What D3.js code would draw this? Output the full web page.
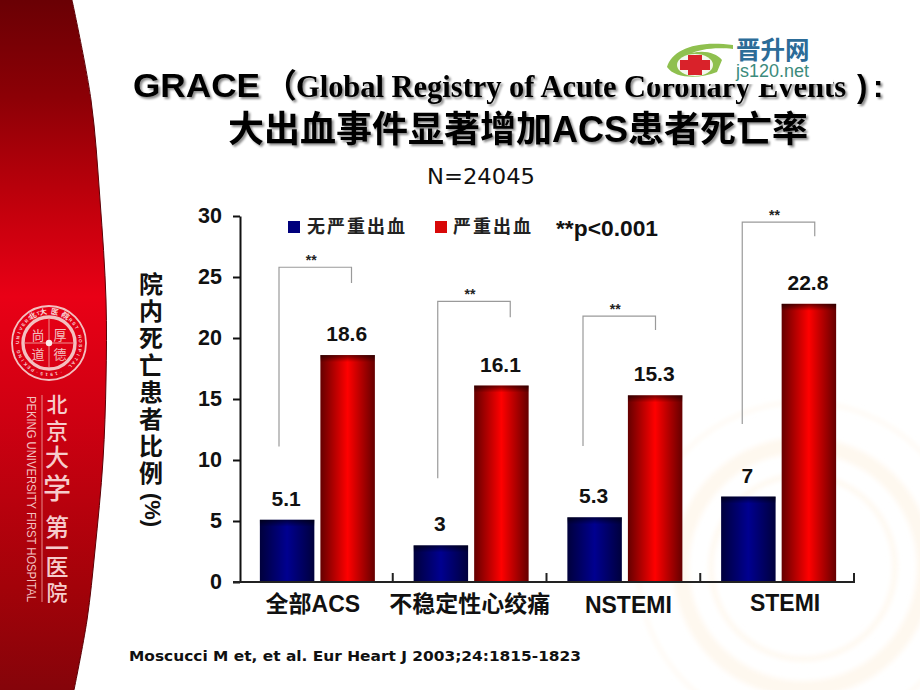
<!DOCTYPE html>
<html><head><meta charset="utf-8">
<script src="https://cdn.jsdelivr.net/npm/d3@7"></script>
<style>html,body{margin:0;padding:0;background:#fff}svg{display:block}</style>
</head><body><svg id="c" width="920" height="690"></svg>
<script>
// ---- data ----
const categories = ["全部ACS", "不稳定性心绞痛", "NSTEMI", "STEMI"];
const seriesNames = ["无严重出血", "严重出血"];
const noBleed = [5.1, 3, 5.3, 7];
const majorBleed = [18.6, 16.1, 15.3, 22.8];
const yTicks = [0, 5, 10, 15, 20, 25, 30];
const bracketTop = [25.8, 23.0, 21.8, 29.5];
const bracketLeftEnd = [11.1, 8.5, 11.15, 12.95];
const bracketRightEnd = [24.5, 21.7, 20.65, 28.35];
const yLabelChars = ["院", "内", "死", "亡", "患", "者", "比", "例"];

// ---- setup ----
const svg = d3.select("#c");
const SANS = "'Liberation Sans',Arial,sans-serif";
const CJK = "'Liberation Sans','Noto Sans CJK SC',sans-serif";
const defs = svg.append("defs");
function grad(id, stops, vertical) {
  const g = defs.append("linearGradient").attr("id", id)
    .attr("x1", 0).attr("y1", 0).attr("x2", vertical ? 0 : 1).attr("y2", vertical ? 1 : 0);
  stops.forEach(s => {
    const st = g.append("stop").attr("offset", s[0]).attr("stop-color", s[1]);
    if (s[2] !== undefined) st.attr("stop-opacity", s[2]);
  });
}
grad("gBlue", [[0, "#00003c"], [0.5, "#000090"], [1, "#00003c"]]);
grad("gRed", [[0, "#650000"], [0.5, "#ff0000"], [1, "#650000"]]);
grad("gTop", [[0, "#000", 0.55], [1, "#000", 0]], true);
grad("gPanel", [[0, "#6a0004"], [0.14, "#8c0006"], [0.3, "#c2000c"], [0.43, "#e90016"], [0.6, "#cf0012"], [0.85, "#a30209"], [1, "#85040a"]], true);
const blur = defs.append("filter").attr("id", "soft").attr("x", "-20%").attr("y", "-20%").attr("width", "140%").attr("height", "140%");
blur.append("feGaussianBlur").attr("stdDeviation", 2.5);

// ---- background ----
const wm = svg.append("g").attr("fill", "none").attr("stroke", "#fef8ef").attr("filter", "url(#soft)");
[[803, 567, 122, 16], [803, 567, 92, 5], [803, 567, 165, 3]].forEach(r =>
  wm.append("circle").attr("cx", r[0]).attr("cy", r[1]).attr("r", r[2]).attr("stroke-width", r[3]));

const edge = [[72, 0], [91, 100], [100, 200], [106, 300], [106, 380], [103, 460], [95, 550], [87, 620], [74, 690]];
const edgePath = d3.line().curve(d3.curveCatmullRom)(edge);
svg.append("path").attr("d", edgePath + "L0,690L0,0Z").attr("fill", "url(#gPanel)");
svg.append("path").attr("d", edgePath).attr("fill", "none").attr("stroke", "#5c0006").attr("stroke-width", 1);

// ---- emblem ----
const PINK = "#f3c0c0";
const em = svg.append("g").attr("transform", "translate(49,343)");
[[37, 1.8], [26, 3.4]].forEach(r =>
  em.append("circle").attr("r", r[0]).attr("fill", "none").attr("stroke", PINK).attr("stroke-width", r[1]));
em.append("path").attr("d", "M-24,0H24M0,-24V24").attr("stroke", "#ee8f8f").attr("stroke-width", 1);
em.append("circle").attr("r", 3.2).attr("fill", "#fde9e9");
[["尚", -11, -9], ["厚", 11, -9], ["道", -11, 10], ["德", 11, 10]].forEach(d =>
  em.append("text").attr("x", d[1]).attr("y", d[2]).attr("text-anchor", "middle").attr("dominant-baseline", "central")
    .attr("font-family", "'Noto Sans CJK SC'").attr("font-size", 13).attr("fill", PINK).text(d[0]));
function ringText(str, centreDeg, stepDeg, size) {
  Array.from(str).forEach((ch, i) => {
    const a = centreDeg + (i - (str.length - 1) / 2) * stepDeg;
    em.append("text").attr("transform", `rotate(${a}) translate(0,-31.5)`).attr("text-anchor", "middle")
      .attr("dominant-baseline", "central").attr("font-family", "'Liberation Sans','Noto Sans CJK SC'")
      .attr("font-weight", "bold").attr("font-size", size).attr("fill", "#f8d5d5").text(ch);
  });
}
ringText("北大医院", 0, 21, 7.5);
ringText("PEKING UNIVERSITY", -80, 8.6, 4.6);
ringText("FIRST HOSPITAL", 82, 8.6, 4.6);
ringText("·1915·", 180, 9, 4.6);

svg.append("line").attr("x1", 42).attr("x2", 42).attr("y1", 395).attr("y2", 602).attr("stroke", "#e88a8a").attr("stroke-width", 1);
svg.append("text").attr("transform", "translate(27,396) rotate(90)").attr("font-family", SANS).attr("font-size", 13.5)
  .attr("fill", PINK).attr("textLength", 206).attr("lengthAdjust", "spacingAndGlyphs").text("PEKING UNIVERSITY FIRST HOSPITAL");
[["北", 403, 21], ["京", 429, 22], ["大", 455, 24], ["学", 487, 28], ["第", 525, 24], ["一", 546, 24], ["医", 565, 23], ["院", 591, 21]].forEach(d =>
  svg.append("text").attr("x", 57).attr("y", d[1]).attr("text-anchor", "middle").attr("dominant-baseline", "central")
    .attr("font-family", "'Noto Sans CJK SC'").attr("font-weight", 500).attr("font-size", d[2]).attr("fill", "#f6cccc").text(d[0]));

// ---- title ----
const title = svg.append("g").style("filter", "drop-shadow(2px 2px 1px #8a8a8a)").attr("fill", "#000");
title.append("text").attr("x", 133).attr("y", 97).attr("font-family", SANS).attr("font-weight", "bold").attr("font-size", 34)
  .attr("textLength", 127).attr("lengthAdjust", "spacingAndGlyphs").text("GRACE");
title.append("text").attr("x", 264).attr("y", 97).attr("font-family", "'Noto Sans CJK SC'").attr("font-weight", "bold").attr("font-size", 33).text("（");
title.append("text").attr("x", 296).attr("y", 97).attr("font-family", "'Liberation Serif',serif").attr("font-weight", "bold").attr("font-size", 31)
  .attr("textLength", 550).attr("lengthAdjust", "spacingAndGlyphs").text("Global Registry of Acute Coronary Events");
title.append("text").attr("x", 857).attr("y", 97).attr("font-family", SANS).attr("font-weight", "bold").attr("font-size", 31).text(")");
title.append("text").attr("x", 873).attr("y", 97).attr("font-family", SANS).attr("font-weight", "bold").attr("font-size", 31).text(":");
title.append("text").attr("x", 518).attr("y", 142).attr("text-anchor", "middle").attr("font-family", CJK).attr("font-weight", "bold").attr("font-size", 36)
  .text("大出血事件显著增加ACS患者死亡率");

// ---- site logo, over the title ----
svg.append("rect").attr("x", 653).attr("y", 30).attr("width", 180).attr("height", 54).attr("fill", "#fff");
const logo = svg.append("g");
logo.append("path").attr("fill", "#8fc04f")
  .attr("d", "M667,67C672,50 695,40 733,45L733,49C712,47 700,50 692,53C705,50 716,53 722,60L717,72C700,79 675,79 667,67Z");
logo.append("ellipse").attr("cx", 695).attr("cy", 65).attr("rx", 18).attr("ry", 11).attr("fill", "#f4f7ee");
logo.append("path").attr("fill", "#d9222a").attr("d", "M688,55H702V60H710V70H702V75H688V70H680V60H688Z");
logo.append("text").attr("x", 736).attr("y", 59).attr("font-family", "'Noto Sans CJK SC'").attr("font-weight", "bold").attr("font-size", 24.5)
  .attr("fill", "#2c6c98").text("晋升网");
logo.append("text").attr("x", 736).attr("y", 77).attr("font-family", SANS).attr("font-size", 18)
  .attr("fill", "#3c8b7c").attr("textLength", 73).attr("lengthAdjust", "spacingAndGlyphs").text("js120.net");

svg.append("text").attr("x", 427).attr("y", 184).attr("font-family", "'DejaVu Sans'").attr("font-size", 22).attr("fill", "#111")
  .attr("textLength", 108).attr("lengthAdjust", "spacingAndGlyphs").text("N=24045");

// ---- chart ----
const y = d3.scaleLinear().domain([0, 30]).range([582, 216]);
const x0 = d3.scaleBand().domain(categories).range([239, 854]).paddingInner(0).paddingOuter(0);
const x1 = d3.scaleBand().domain([0, 1]).range([1.5, x0.bandwidth() + 1.5]).paddingInner(0.1).paddingOuter(0.32);
const series = [noBleed, majorBleed];
const fills = ["url(#gBlue)", "url(#gRed)"];

const g = svg.append("g");
series.forEach((vals, si) => {
  g.append("g").selectAll("rect").data(vals).join("rect")
    .attr("x", (d, i) => x0(categories[i]) + x1(si))
    .attr("width", x1.bandwidth())
    .attr("y", d => y(d))
    .attr("height", d => y(0) - y(d))
    .attr("fill", fills[si]);
  g.append("g").selectAll("rect").data(vals).join("rect")
    .attr("x", (d, i) => x0(categories[i]) + x1(si))
    .attr("width", x1.bandwidth())
    .attr("y", d => y(d))
    .attr("height", 7)
    .attr("fill", "url(#gTop)");
  g.append("g").selectAll("text").data(vals).join("text")
    .attr("x", (d, i) => x0(categories[i]) + x1(si) + x1.bandwidth() / 2 - 1)
    .attr("y", d => y(d) - 14)
    .attr("text-anchor", "middle").attr("font-family", SANS).attr("font-weight", "bold").attr("font-size", 21).attr("fill", "#111")
    .text(d => d);
});

// y axis
const yAxis = g.append("g").attr("transform", "translate(240,0)")
  .call(d3.axisLeft(y).tickValues(yTicks).tickSize(7).tickPadding(11).tickSizeOuter(0));
yAxis.select(".domain").attr("stroke", "#111").attr("stroke-width", 2);
yAxis.selectAll("line").attr("stroke", "#111").attr("stroke-width", 2);
yAxis.selectAll("text").attr("font-family", SANS).attr("font-weight", "bold").attr("font-size", 21.5).attr("fill", "#111");

// x axis
g.append("line").attr("x1", 233).attr("x2", x0.range()[1] + 1).attr("y1", y(0)).attr("y2", y(0)).attr("stroke", "#222").attr("stroke-width", 2);
g.append("g").selectAll("line").data(categories).join("line")
  .attr("x1", d => x0(d) + x0.step()).attr("x2", d => x0(d) + x0.step())
  .attr("y1", y(0)).attr("y2", y(0) - 9).attr("stroke", "#222").attr("stroke-width", 2);
const labelNudge = [-3, 0, 5, 8], labelBase = [612, 612, 613, 611];
g.append("g").selectAll("text").data(categories).join("text")
  .attr("x", (d, i) => x0(d) + x0.bandwidth() / 2 + labelNudge[i])
  .attr("y", (d, i) => labelBase[i])
  .attr("text-anchor", "middle").attr("font-family", CJK).attr("font-weight", "bold").attr("font-size", 23).attr("fill", "#111")
  .text(d => d);

// significance brackets
const bracketInset = [40, 45, 36.5, 42];
const bl = (c, i) => x0(c) + bracketInset[i], br = (c, i) => bl(c, i) + 72.5;
g.append("g").selectAll("path").data(categories).join("path")
  .attr("fill", "none").attr("stroke", "#9a9a9a").attr("stroke-width", 1.2)
  .attr("d", (c, i) => `M${bl(c, i)},${y(bracketLeftEnd[i])}V${y(bracketTop[i])}H${br(c, i)}V${y(bracketRightEnd[i])}`);
g.append("g").selectAll("text").data(categories).join("text")
  .attr("x", (c, i) => (bl(c, i) + br(c, i)) / 2 - 4)
  .attr("y", (c, i) => y(bracketTop[i]) - 2)
  .attr("text-anchor", "middle").attr("font-family", SANS).attr("font-weight", "bold").attr("font-size", 14).attr("fill", "#222")
  .text("**");

// y title
g.append("g").selectAll("text").data(yLabelChars).join("text")
  .attr("x", 151).attr("y", (d, i) => 282 + i * 27)
  .attr("text-anchor", "middle").attr("dominant-baseline", "central")
  .attr("font-family", "'Noto Sans CJK SC'").attr("font-weight", "bold").attr("font-size", 24).attr("fill", "#111")
  .text(d => d);
g.append("text").attr("transform", "translate(145,510) rotate(90)").attr("text-anchor", "middle")
  .attr("font-family", SANS).attr("font-weight", "bold").attr("font-size", 22).attr("fill", "#111").text("(%)");

// legend
const lg = g.append("g");
[[288, 307], [435, 453]].forEach((p, i) => {
  lg.append("rect").attr("x", p[0]).attr("y", 221).attr("width", 12).attr("height", 12).attr("fill", i ? "#d80808" : "#00007c");
  lg.append("text").attr("x", p[1]).attr("y", 233).attr("font-family", "'Noto Sans CJK SC'").attr("font-weight", 700)
    .attr("font-size", 18).attr("letter-spacing", 2).attr("fill", "#222").text(seriesNames[i]);
});
lg.append("text").attr("x", 556).attr("y", 236).attr("font-family", SANS).attr("font-weight", "bold").attr("font-size", 22)
  .attr("textLength", 102).attr("lengthAdjust", "spacingAndGlyphs").attr("fill", "#111").text("**p<0.001");

// citation
svg.append("text").attr("x", 129).attr("y", 661).attr("font-family", "'DejaVu Sans'").attr("font-weight", "bold").attr("font-size", 13.5)
  .attr("textLength", 452).attr("lengthAdjust", "spacingAndGlyphs").attr("fill", "#111").text("Moscucci M et, et al. Eur Heart J 2003;24:1815-1823");
</script></body></html>
